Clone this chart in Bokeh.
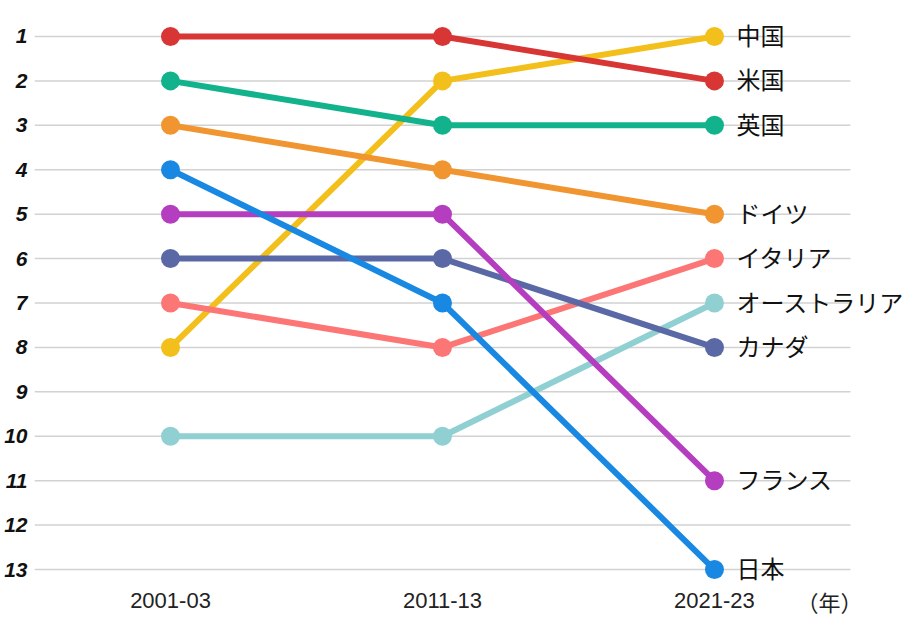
from bokeh.plotting import figure
from bokeh.models import Range1d, FixedTicker, ColumnDataSource
from bokeh.core.properties import value
from bokeh.embed import file_html
from bokeh.resources import INLINE

periods = ["2001-03", "2011-13", "2021-23"]
year_unit = "（年）"
rank_ticks = list(range(1, 14))

countries = ["中国", "イタリア", "オーストラリア", "米国", "英国", "ドイツ", "カナダ", "フランス", "日本"]
ranks = {
    "中国": [8, 2, 1],
    "イタリア": [7, 8, 6],
    "オーストラリア": [10, 10, 7],
    "米国": [1, 1, 2],
    "英国": [2, 3, 3],
    "ドイツ": [3, 4, 5],
    "カナダ": [6, 6, 8],
    "フランス": [5, 5, 11],
    "日本": [4, 7, 13],
}
colors = {
    "中国": "#f2bf1b",
    "イタリア": "#fc7676",
    "オーストラリア": "#90d0d2",
    "米国": "#d83535",
    "英国": "#12b38c",
    "ドイツ": "#f0952f",
    "カナダ": "#5a69a6",
    "フランス": "#b43dc0",
    "日本": "#1888e2",
}

CJK = "Noto Sans CJK JP"
xs = list(range(len(periods)))

p = figure(width=906, height=616, output_backend="svg", toolbar_location=None,
           x_range=Range1d(-0.5, 2.706), y_range=Range1d(14.057, 0.19),
           min_border_left=34, min_border_right=0, min_border_top=0, min_border_bottom=0)
p.outline_line_color = None
p.xaxis.visible = False
p.xgrid.visible = False
p.ygrid.visible = False

ax = p.yaxis[0]
ax.ticker = FixedTicker(ticks=rank_ticks)
ax.axis_line_color = None
ax.major_tick_line_color = None
ax.minor_tick_line_color = None
ax.major_tick_out = 0
ax.major_tick_in = 0
ax.major_label_standoff = 7
ax.major_label_text_font = "Liberation Sans"
ax.major_label_text_font_style = "bold italic"
ax.major_label_text_font_size = "21px"
ax.major_label_text_color = "#111111"

# horizontal rank gridlines
p.segment(x0=[-0.5] * len(rank_ticks), x1=[2.5] * len(rank_ticks), y0=rank_ticks, y1=rank_ticks,
          line_color="#d2d2d2", line_width=1.5)

for c in countries:
    src = ColumnDataSource(dict(x=xs, y=ranks[c]))
    p.line("x", "y", source=src, line_color=colors[c], line_width=6)
    p.scatter("x", "y", source=src, size=19, fill_color=colors[c], line_color=None)

# end labels
p.text(x=[xs[-1]] * len(countries), y=[ranks[c][-1] for c in countries], text=countries,
       x_offset=22, y_offset=-2, text_align="left", text_baseline="middle",
       text_font=value(CJK), text_font_size="24px", text_color="#111111")

# period labels
label_row = 13.7
p.text(x=xs, y=[label_row] * len(xs), text=periods, text_align="center", text_baseline="middle",
       text_font=value("Liberation Sans"), text_font_size="22px", text_color="#222222")
p.text(x=[2.423], y=[label_row], text=[year_unit], text_align="center", text_baseline="middle",
       text_font=value(CJK), text_font_size="22px", text_color="#222222")

open("out.html", "w").write(file_html(p, INLINE))
